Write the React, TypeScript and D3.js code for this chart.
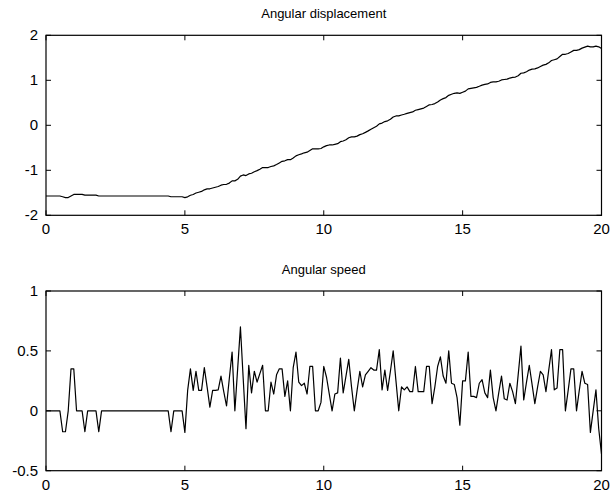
import React from "react";
import * as d3 from "d3";

// sample spacing of both series (seconds)
const TIME_STEP = 0.1;

// Angular speed, one value per 0.1 s from t = 0 to t = 20
const SPEED: number[] = [
  0, 0, 0, 0, 0, 0, -0.175, -0.175, 0, 0.35,
  0.35, 0, 0, 0, -0.175, 0, 0, 0, 0, -0.175,
  0, 0, 0, 0, 0, 0, 0, 0, 0, 0,
  0, 0, 0, 0, 0, 0, 0, 0, 0, 0,
  0, 0, 0, 0, 0, -0.175, 0, 0, 0, 0,
  -0.18, 0.17, 0.35, 0.17, 0.33, 0.17, 0.17, 0.36, 0.2, 0.03,
  0.17, 0.17, 0.175, 0.29, 0.16, 0.04, 0.27, 0.49, 0, 0.35,
  0.7, 0.27, -0.15, 0.38, 0.15, 0.33, 0.24, 0.31, 0.38, 0,
  0, 0.24, 0.14, 0.3, 0.35, 0.35, 0.12, 0.25, 0, 0.36,
  0.49, 0.24, 0.21, 0.23, 0.14, 0.37, 0.37, 0, 0, 0.07,
  0.37, 0.28, 0.14, 0, 0.14, 0.15, 0.44, 0.15, 0.29, 0.43,
  0.2, 0, 0.17, 0.33, 0.2, 0.3, 0.33, 0.36, 0.34, 0.34,
  0.51, 0.175, 0.34, 0.17, 0.33, 0.5, 0.25, 0, 0.2, 0.175,
  0.2, 0.16, 0.16, 0.37, 0.16, 0.16, 0.16, 0.37, 0.37, 0.06,
  0.2, 0.37, 0.45, 0.29, 0.23, 0.5, 0.23, 0.22, 0.11, -0.12,
  0.25, 0.25, 0.49, 0.12, 0.12, 0.11, 0.23, 0.26, 0.15, 0.11,
  0.34, 0.11, 0, 0.15, 0.29, 0.1, 0.09, 0.23, 0.16, 0.06,
  0.3, 0.54, 0.09, 0.24, 0.38, 0.22, 0.06, 0.2, 0.33, 0.3,
  0.16, 0.34, 0.51, 0.175, 0.19, 0.51, 0.51, 0, 0.17, 0.35,
  0.35, 0, 0.17, 0.33, 0.23, 0.22, -0.18, 0, 0.175, -0.15,
  -0.36,
];

// Angular displacement, one value per 0.1 s from t = 0 to t = 20
const DISPLACEMENT: number[] = [
  -1.571, -1.571, -1.571, -1.571, -1.571, -1.571, -1.588, -1.606, -1.606, -1.571,
  -1.536, -1.536, -1.536, -1.536, -1.553, -1.553, -1.553, -1.553, -1.553, -1.571,
  -1.571, -1.571, -1.571, -1.571, -1.571, -1.571, -1.571, -1.571, -1.571, -1.571,
  -1.571, -1.571, -1.571, -1.571, -1.571, -1.571, -1.571, -1.571, -1.571, -1.571,
  -1.571, -1.571, -1.571, -1.571, -1.571, -1.588, -1.588, -1.588, -1.588, -1.588,
  -1.606, -1.589, -1.554, -1.537, -1.504, -1.487, -1.47, -1.434, -1.414, -1.411,
  -1.394, -1.377, -1.36, -1.331, -1.315, -1.311, -1.284, -1.235, -1.235, -1.2,
  -1.13, -1.103, -1.118, -1.08, -1.065, -1.032, -1.008, -0.977, -0.939, -0.939,
  -0.939, -0.915, -0.901, -0.871, -0.836, -0.801, -0.789, -0.764, -0.764, -0.728,
  -0.679, -0.655, -0.634, -0.611, -0.597, -0.56, -0.523, -0.523, -0.523, -0.516,
  -0.479, -0.451, -0.437, -0.437, -0.423, -0.408, -0.364, -0.349, -0.32, -0.277,
  -0.257, -0.257, -0.24, -0.207, -0.187, -0.157, -0.124, -0.088, -0.054, -0.02,
  0.031, 0.049, 0.083, 0.1, 0.133, 0.183, 0.208, 0.208, 0.228, 0.245,
  0.265, 0.281, 0.297, 0.334, 0.35, 0.366, 0.382, 0.419, 0.456, 0.462,
  0.482, 0.519, 0.564, 0.593, 0.616, 0.666, 0.689, 0.711, 0.722, 0.71,
  0.735, 0.76, 0.809, 0.821, 0.833, 0.844, 0.867, 0.893, 0.908, 0.919,
  0.953, 0.964, 0.964, 0.979, 1.008, 1.018, 1.027, 1.05, 1.066, 1.072,
  1.102, 1.156, 1.165, 1.189, 1.227, 1.249, 1.255, 1.275, 1.308, 1.338,
  1.354, 1.388, 1.439, 1.457, 1.476, 1.527, 1.578, 1.578, 1.595, 1.63,
  1.665, 1.665, 1.682, 1.715, 1.738, 1.76, 1.742, 1.742, 1.759, 1.744,
  1.708,
];

const X_TICKS = [0, 5, 10, 15, 20];
const DISP_TICKS = [-2, -1, 0, 1, 2];
const SPEED_TICKS = [-0.5, 0, 0.5, 1];

const FONT = "'Liberation Sans', Arial, Helvetica, sans-serif";

type PanelProps = {
  title: string;
  values: number[];
  yDomain: [number, number];
  yTicks: number[];
  top: number;
  bottom: number;
};

const LEFT = 46;
const RIGHT = 601.5;
const TICK_LEN = 5;

function Panel({ title, values, yDomain, yTicks, top, bottom }: PanelProps) {
  const x = d3.scaleLinear().domain([0, 20]).range([LEFT, RIGHT]);
  const y = d3.scaleLinear().domain(yDomain).range([bottom, top]);
  const line = d3
    .line<number>()
    .x((_, i) => x(i * TIME_STEP))
    .y((d) => y(d));
  const path = line(values) || "";

  return (
    <g>
      <text
        x={(LEFT + RIGHT) / 2}
        y={top - 17}
        textAnchor="middle"
        fontFamily={FONT}
        fontSize={13}
        fill="#000"
      >
        {title}
      </text>
      <path d={path} fill="none" stroke="#000" strokeWidth={1.2} strokeLinejoin="round" />
      <rect
        x={LEFT}
        y={top}
        width={RIGHT - LEFT}
        height={bottom - top}
        fill="none"
        stroke="#000"
        strokeWidth={1.2}
      />
      {X_TICKS.map((t) => (
        <g key={"x" + t}>
          <line x1={x(t)} x2={x(t)} y1={bottom} y2={bottom - TICK_LEN} stroke="#000" strokeWidth={1} />
          <line x1={x(t)} x2={x(t)} y1={top} y2={top + TICK_LEN} stroke="#000" strokeWidth={1} />
          <text
            x={x(t)}
            y={bottom + 19}
            textAnchor="middle"
            fontFamily={FONT}
            fontSize={15}
            fill="#000"
          >
            {String(t)}
          </text>
        </g>
      ))}
      {yTicks.map((t) => (
        <g key={"y" + t}>
          <line x1={LEFT} x2={LEFT + TICK_LEN} y1={y(t)} y2={y(t)} stroke="#000" strokeWidth={1} />
          <line x1={RIGHT} x2={RIGHT - TICK_LEN} y1={y(t)} y2={y(t)} stroke="#000" strokeWidth={1} />
          <text
            x={LEFT - 8}
            y={y(t) + 5}
            textAnchor="end"
            fontFamily={FONT}
            fontSize={15}
            fill="#000"
          >
            {String(t)}
          </text>
        </g>
      ))}
    </g>
  );
}

export default function App() {
  return (
    <svg
      width={616}
      height={495}
      viewBox="0 0 616 495"
      style={{ position: "absolute", left: 0, top: 0, background: "#fff" }}
    >
      <rect x={0} y={0} width={616} height={495} fill="#fff" />
      <Panel
        title="Angular displacement"
        values={DISPLACEMENT}
        yDomain={[-2, 2]}
        yTicks={DISP_TICKS}
        top={35.3}
        bottom={215.3}
      />
      <Panel
        title="Angular speed"
        values={SPEED}
        yDomain={[-0.5, 1]}
        yTicks={SPEED_TICKS}
        top={291}
        bottom={470.7}
      />
    </svg>
  );
}
